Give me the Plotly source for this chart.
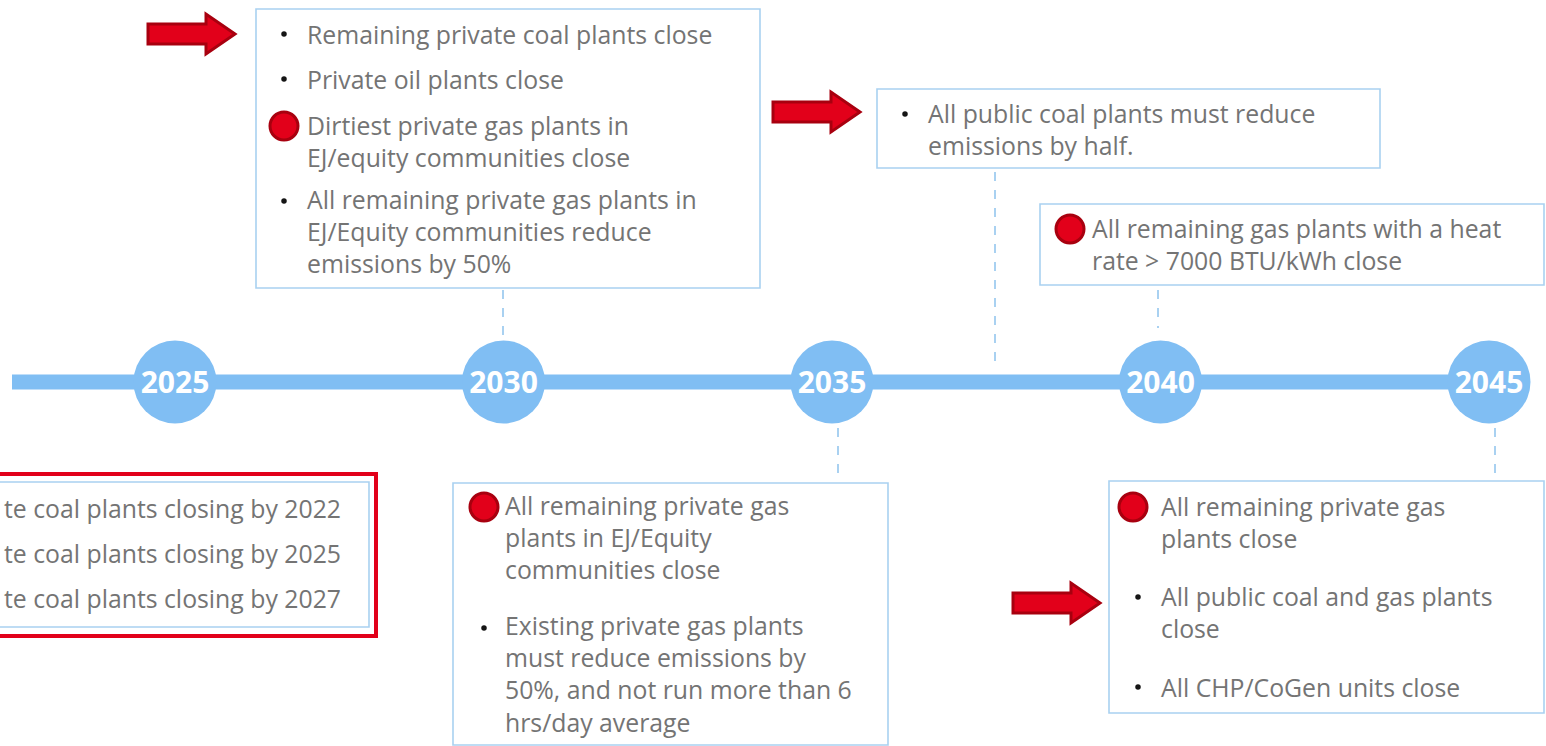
import plotly.graph_objects as go

# ---------------- data ----------------
years = [2025, 2030, 2035, 2040, 2045]
year_labels = ["2025", "2030", "2035", "2040", "2045"]

# each box: list of (marker, [lines]) ; marker: "dot" bullet, "red" red circle, None
box_2030_top = [
    ("dot", ["Remaining private coal plants close"]),
    ("dot", ["Private oil plants close"]),
    ("red", ["Dirtiest private gas plants in", "EJ/equity communities close"]),
    ("dot", ["All remaining private gas plants in", "EJ/Equity communities reduce", "emissions by 50%"]),
]
box_2035_top = [
    ("dot", ["All public coal plants must reduce", "emissions by half."]),
]
box_2040_top = [
    ("red", ["All remaining gas plants with a heat", "rate > 7000 BTU/kWh close"]),
]
box_2025_bottom = [
    (None, ["te coal plants closing by 2022"]),
    (None, ["te coal plants closing by 2025"]),
    (None, ["te coal plants closing by 2027"]),
]
box_2035_bottom = [
    ("red", ["All remaining private gas", "plants in EJ/Equity", "communities close"]),
    ("dot", ["Existing private gas plants", "must reduce emissions by", "50%, and not run more than 6", "hrs/day average"]),
]
box_2045_bottom = [
    ("red", ["All remaining private gas", "plants close"]),
    ("dot", ["All public coal and gas plants", "close"]),
    ("dot", ["All CHP/CoGen units close"]),
]

# ---------------- layout helpers ----------------
W, H = 1546, 746
PX_2025, PX_2045 = 175, 1489
PPY = (PX_2045 - PX_2025) / (years[-1] - years[0])
X0 = years[0] - PX_2025 / PPY
X1 = X0 + W / PPY


def px(x):
    return X0 + x / PPY


BLUE = "#80bef3"
BOX_BLUE = "#a9d1f1"
RED = "#e2001a"
DARK_RED = "#a8000f"
GREY = "#747474"
FONT = "Open Sans"
FS = 24.8
LH = 30.3  # reference line pitch

TL_Y = 382

fig = go.Figure()
shapes = []
annotations = []
red_markers = []
dot_markers = []

# timeline bar
shapes.append(dict(type="line", xref="x", yref="y", x0=px(12), x1=years[-1], y0=TL_Y, y1=TL_Y,
                   line=dict(color=BLUE, width=15), layer="below"))

# dashed connectors (x pixel, y0, y1)
connectors = [(503, 290, 336), (995, 172, 368), (1158, 290, 328), (838, 428, 478), (1495, 428, 478)]
for cx, a, b in connectors:
    shapes.append(dict(type="line", xref="x", yref="y", x0=px(cx), x1=px(cx), y0=a, y1=b,
                       line=dict(color=BOX_BLUE, width=2, dash="dash"), layer="below"))


def add_box(x0, y0, x1, y1, color=BOX_BLUE, width=1.6):
    shapes.append(dict(type="rect", xref="x", yref="y", x0=px(x0), x1=px(x1), y0=y0, y1=y1,
                       line=dict(color=color, width=width), fillcolor="rgba(255,255,255,0)", layer="above"))


def add_text(items, mark_x, text_x, ys, anchor="left", red_dx=0):
    for (mk, lines), y in zip(items, ys):
        if mk == "dot":
            dot_markers.append((px(mark_x), y))
        elif mk == "red":
            red_markers.append((px(mark_x + red_dx), y))
        yc = y + (len(lines) - 1) * LH / 2
        annotations.append(dict(x=px(text_x), y=yc, xref="x", yref="y", text="<br>".join(lines),
                                showarrow=False, align=anchor,
                                font=dict(family=FONT, size=FS, color=GREY), xanchor=anchor,
                                yanchor="middle", borderpad=0))


# boxes
add_box(256, 9, 760, 288)
add_text(box_2030_top, 284, 306, [34, 79, 126, 201])

add_box(877, 89, 1380, 168)
add_text(box_2035_top, 905, 927, [114])

add_box(1040, 204, 1544, 285)
add_text(box_2040_top, 1070, 1091, [229])

add_box(-10, 474, 376, 636, color=RED, width=4)
add_box(-10, 482, 369, 627)
add_text(box_2025_bottom, 0, 342, [508, 553, 598], anchor="right")

add_box(453, 483, 888, 745)
add_text(box_2035_bottom, 484, 504, [507, 628])

add_box(1109, 481, 1544, 713)
add_text(box_2045_bottom, 1138, 1160, [507, 597, 687], red_dx=-5)

# red arrows: (left x px, centre y px)
arrows = [(148, 34), (773, 112), (1013, 603)]
for ax, ay in arrows:
    pts = [(ax, ay - 10), (ax + 58, ay - 10), (ax + 58, ay - 20), (ax + 87, ay), (ax + 58, ay + 20),
           (ax + 58, ay + 10), (ax, ay + 10)]
    path = "M " + " L ".join(f"{px(x)},{y}" for x, y in pts) + " Z"
    shapes.append(dict(type="path", xref="x", yref="y", path=path, fillcolor=RED,
                       line=dict(color=DARK_RED, width=3), layer="above"))

# bullet dots
fig.add_trace(go.Scatter(x=[p[0] for p in dot_markers], y=[p[1] for p in dot_markers], mode="markers",
                         marker=dict(size=5.5, color="#151515", line=dict(width=0)),
                         hoverinfo="skip", showlegend=False))

# red circle markers
fig.add_trace(go.Scatter(x=[p[0] for p in red_markers], y=[p[1] for p in red_markers], mode="markers",
                         marker=dict(size=28, color=RED, line=dict(color=DARK_RED, width=3)),
                         hoverinfo="skip", showlegend=False))

# year circles
fig.add_trace(go.Scatter(x=years, y=[TL_Y] * len(years), mode="markers",
                         marker=dict(size=83, color=BLUE, line=dict(width=0)),
                         hoverinfo="skip", showlegend=False))
fig.add_trace(go.Scatter(x=years, y=[TL_Y + 3] * len(years), mode="text", text=year_labels,
                         textposition="middle center",
                         textfont=dict(family=FONT, size=30, color="white", weight="bold"),
                         hoverinfo="skip", showlegend=False))

fig.update_layout(
    width=W, height=H, margin=dict(l=0, r=0, t=0, b=0),
    paper_bgcolor="white", plot_bgcolor="white",
    xaxis=dict(range=[X0, X1], visible=False, fixedrange=True),
    yaxis=dict(range=[H, 0], visible=False, fixedrange=True),
    shapes=shapes, annotations=annotations, showlegend=False,
)

fig.write_html("out.html", config={"displayModeBar": False},
               post_script="document.body.style.margin='0';document.body.style.overflow='hidden';")
